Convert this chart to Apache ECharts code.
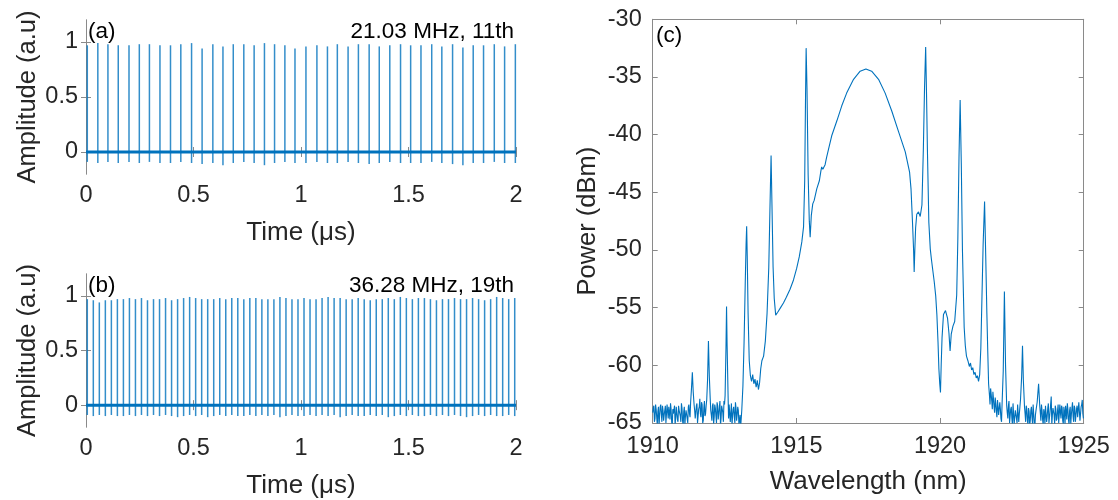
<!DOCTYPE html>
<html><head><meta charset="utf-8">
<script src="https://cdn.jsdelivr.net/npm/echarts@6/dist/echarts.min.js"></script>
<style>html,body{margin:0;padding:0;background:#fff}#c{width:1118px;height:500px}</style>
</head><body><div id="c"></div>
<script>
// ---------- DATA ----------
const timeTicks = [0, 0.5, 1, 1.5, 2];
const ampTicks = [0, 0.5, 1];
const wlTicks = [1910, 1915, 1920, 1925];
const powTicks = [-65, -60, -55, -50, -45, -40, -35, -30];

// (a) 21.03 MHz, 11th harmonic: pulse positions (µs), peak and undershoot amplitudes
const pulseTimesA = [0.006,0.055,0.102,0.150,0.200,0.248,0.295,0.344,0.393,0.441,0.491,0.540,0.590,0.637,0.685,0.734,0.782,0.830,0.877,0.925,0.972,1.023,1.074,1.123,1.169,1.219,1.267,1.317,1.364,1.413,1.463,1.510,1.558,1.608,1.655,1.705,1.753,1.801,1.849,1.899,1.947,1.997];
const peaksA = [0.97,0.99,0.98,0.97,0.97,0.98,0.98,0.97,0.97,0.98,0.99,0.94,0.98,0.96,0.98,0.98,0.97,0.99,0.98,0.97,0.94,0.96,0.97,0.96,0.98,0.96,0.98,0.98,0.96,0.97,0.98,0.97,0.97,0.98,0.96,0.98,0.95,0.97,0.97,0.98,0.96,0.98];
const dipsA = [-0.09,-0.10,-0.09,-0.10,-0.09,-0.10,-0.09,-0.10,-0.10,-0.09,-0.10,-0.11,-0.10,-0.12,-0.10,-0.09,-0.10,-0.12,-0.10,-0.09,-0.10,-0.10,-0.09,-0.10,-0.10,-0.09,-0.10,-0.11,-0.10,-0.09,-0.10,-0.10,-0.10,-0.09,-0.10,-0.11,-0.12,-0.10,-0.10,-0.09,-0.10,-0.10];

// (b) 36.28 MHz, 19th harmonic
const pulseTimesB = [0.006,0.034,0.062,0.090,0.118,0.146,0.174,0.202,0.230,0.258,0.286,0.314,0.342,0.370,0.398,0.426,0.454,0.482,0.510,0.538,0.566,0.594,0.622,0.650,0.678,0.706,0.734,0.762,0.790,0.818,0.846,0.874,0.902,0.930,0.958,0.986,1.014,1.042,1.070,1.098,1.126,1.154,1.182,1.210,1.238,1.266,1.294,1.322,1.350,1.378,1.406,1.434,1.462,1.490,1.518,1.546,1.574,1.602,1.630,1.658,1.686,1.714,1.742,1.770,1.798,1.826,1.854,1.882,1.910,1.938,1.966,1.994];
const peaksB = [0.97,0.96,0.94,0.96,0.96,0.97,0.97,0.98,0.97,0.98,0.96,0.97,
                0.97,0.98,0.96,0.97,0.98,0.99,0.98,0.97,0.97,0.97,0.98,0.97,
                0.98,0.98,0.97,0.98,0.98,0.97,0.97,0.97,0.99,0.98,0.97,0.97,
                0.98,0.97,0.97,0.98,0.99,0.98,0.98,0.97,0.97,0.98,0.97,0.96,
                0.97,0.97,0.98,0.97,0.99,0.98,0.97,0.98,0.98,0.97,0.96,0.97,
                0.97,0.98,0.97,0.97,0.98,0.97,0.96,0.97,0.99,0.98,0.97,0.98];
const dipsB = [-0.09,-0.10,-0.09,-0.10,-0.09,-0.10,-0.10,-0.09,-0.10,-0.09,-0.10,-0.09,
               -0.10,-0.09,-0.10,-0.11,-0.10,-0.09,-0.10,-0.09,-0.11,-0.10,-0.09,-0.10,
               -0.09,-0.10,-0.10,-0.09,-0.10,-0.09,-0.10,-0.09,-0.11,-0.10,-0.09,-0.10,
               -0.10,-0.09,-0.10,-0.09,-0.10,-0.09,-0.11,-0.10,-0.09,-0.10,-0.10,-0.09,
               -0.10,-0.09,-0.11,-0.10,-0.09,-0.10,-0.09,-0.10,-0.10,-0.09,-0.10,-0.09,
               -0.10,-0.09,-0.10,-0.11,-0.10,-0.09,-0.10,-0.09,-0.10,-0.10,-0.09,-0.10];
const baselineSpan = [0, 2];
const baselineLevel = 0;

// (c) optical spectrum (main trace)
const wavelength = [1910.00,1910.04,1910.08,1910.12,1910.16,1910.20,1910.24,1910.28,1910.32,1910.36,1910.40,1910.44,1910.48,1910.52,1910.56,1910.60,1910.64,1910.68,1910.72,1910.76,1910.80,1910.84,1910.88,1910.92,1910.96,1911.00,1911.04,1911.08,1911.12,1911.16,1911.20,1911.24,1911.28,1911.32,1911.35,1911.38,1911.41,1911.44,1911.48,1911.52,1911.56,1911.60,1911.64,1911.68,1911.72,1911.76,1911.80,1911.84,1911.88,1911.91,1911.94,1911.97,1912.00,1912.04,1912.08,1912.12,1912.16,1912.20,1912.24,1912.28,1912.32,1912.36,1912.40,1912.44,1912.48,1912.52,1912.55,1912.57,1912.59,1912.62,1912.66,1912.70,1912.74,1912.78,1912.82,1912.86,1912.90,1912.94,1912.98,1913.02,1913.06,1913.10,1913.14,1913.18,1913.22,1913.25,1913.27,1913.29,1913.32,1913.36,1913.40,1913.44,1913.48,1913.52,1913.56,1913.60,1913.64,1913.68,1913.72,1913.76,1913.80,1913.86,1913.92,1913.98,1914.04,1914.08,1914.12,1914.15,1914.19,1914.23,1914.28,1914.35,1914.45,1914.55,1914.65,1914.78,1914.90,1915.01,1915.10,1915.19,1915.25,1915.29,1915.32,1915.34,1915.37,1915.41,1915.45,1915.48,1915.52,1915.57,1915.62,1915.71,1915.80,1915.85,1915.88,1915.92,1915.96,1916.00,1916.05,1916.12,1916.23,1916.41,1916.58,1916.75,1916.99,1917.22,1917.42,1917.62,1917.86,1918.09,1918.32,1918.55,1918.79,1918.94,1918.99,1919.04,1919.08,1919.10,1919.12,1919.15,1919.19,1919.25,1919.31,1919.37,1919.42,1919.46,1919.50,1919.53,1919.56,1919.61,1919.66,1919.70,1919.75,1919.80,1919.85,1919.89,1919.93,1919.96,1919.99,1920.015,1920.04,1920.07,1920.12,1920.19,1920.26,1920.31,1920.35,1920.39,1920.45,1920.51,1920.58,1920.62,1920.66,1920.70,1920.74,1920.78,1920.84,1920.88,1920.92,1920.97,1921.02,1921.06,1921.10,1921.14,1921.18,1921.22,1921.26,1921.30,1921.34,1921.38,1921.42,1921.46,1921.50,1921.55,1921.59,1921.63,1921.66,1921.69,1921.72,1921.76,1921.80,1921.84,1921.88,1921.92,1921.96,1922.00,1922.04,1922.08,1922.12,1922.16,1922.20,1922.24,1922.28,1922.32,1922.36,1922.40,1922.44,1922.48,1922.52,1922.56,1922.60,1922.64,1922.68,1922.72,1922.76,1922.80,1922.84,1922.87,1922.90,1922.94,1922.98,1923.02,1923.06,1923.10,1923.14,1923.18,1923.22,1923.26,1923.30,1923.34,1923.38,1923.43,1923.47,1923.51,1923.55,1923.59,1923.63,1923.67,1923.71,1923.75,1923.79,1923.83,1923.87,1923.91,1923.95,1923.99,1924.03,1924.07,1924.11,1924.15,1924.19,1924.23,1924.27,1924.31,1924.35,1924.39,1924.43,1924.47,1924.51,1924.55,1924.59,1924.63,1924.67,1924.71,1924.75,1924.79,1924.83,1924.87,1924.91,1924.95,1924.99];
const power = [-64.1,-63.5,-64.6,-63.8,-65.2,-63.6,-64.4,-63.4,-64.9,-63.9,-64.3,-63.5,-65.1,-64.0,-63.6,-64.7,-63.8,-65.3,-64.2,-63.5,-64.5,-63.7,-64.9,-63.9,-64.4,-63.3,-64.8,-64.0,-65.2,-63.9,-64.6,-63.6,-64.2,-63.2,-62.0,-60.6,-62.3,-63.4,-64.6,-63.5,-65.0,-63.8,-62.9,-64.5,-63.4,-64.8,-63.1,-64.2,-63.0,-61.2,-57.9,-60.9,-62.8,-64.3,-63.5,-65.1,-63.4,-64.4,-63.2,-64.7,-63.6,-65.2,-63.5,-64.1,-63.1,-62.6,-58.5,-54.9,-58.3,-62.2,-63.4,-64.9,-63.3,-64.4,-63.6,-65.0,-63.7,-64.3,-63.9,-64.8,-65.4,-63.9,-61.8,-58.0,-53.0,-49.5,-47.95,-50.5,-55.5,-59.6,-60.9,-61.4,-60.8,-61.6,-61.2,-61.9,-61.3,-62.1,-61.5,-60.3,-59.6,-59.2,-57.9,-55.5,-51.5,-46.5,-41.8,-46.0,-51.5,-54.2,-55.65,-55.4,-55.0,-54.6,-54.1,-53.4,-52.6,-51.6,-50.6,-49.3,-48.0,-44.0,-36.5,-32.5,-36.0,-43.5,-47.5,-48.9,-47.0,-46.0,-45.7,-44.7,-44.0,-43.2,-42.8,-43.0,-43.0,-42.6,-42.0,-41.25,-40.1,-38.8,-37.5,-36.4,-35.2,-34.5,-34.3,-34.5,-35.2,-36.4,-37.95,-39.7,-41.5,-43.25,-44.7,-47.5,-50.0,-51.9,-50.2,-48.1,-46.9,-46.7,-47.1,-46.1,-41.2,-36.0,-32.4,-36.5,-41.2,-47.6,-49.9,-50.8,-51.8,-52.8,-54.0,-55.6,-58.0,-60.3,-61.6,-62.35,-60.0,-57.6,-55.6,-55.25,-55.9,-57.2,-58.75,-57.3,-56.6,-56.2,-53.9,-49.0,-42.0,-37.0,-42.5,-50.0,-56.7,-58.3,-59.2,-59.6,-60.1,-59.8,-60.4,-60.2,-60.8,-60.6,-61.1,-60.9,-61.4,-60.8,-58.5,-54.0,-49.5,-45.8,-50.5,-55.5,-58.7,-61.6,-62.6,-62.0,-63.1,-62.3,-63.6,-62.8,-64.0,-63.0,-64.3,-63.2,-64.6,-63.3,-60.5,-53.6,-60.0,-63.5,-64.6,-63.1,-64.9,-63.6,-65.2,-63.4,-64.5,-63.8,-65.0,-63.5,-64.2,-63.0,-61.0,-58.3,-61.3,-63.6,-64.9,-63.8,-65.3,-64.0,-64.8,-63.6,-65.1,-64.2,-65.4,-63.9,-63.2,-61.6,-63.5,-64.8,-63.9,-65.2,-64.1,-63.5,-64.9,-63.7,-65.0,-64.0,-62.7,-64.3,-63.6,-65.1,-63.8,-64.6,-63.4,-65.0,-64.1,-63.5,-64.8,-63.6,-65.2,-64.0,-63.3,-64.7,-63.9,-65.1,-63.7,-64.4,-63.5,-64.9,-63.8,-64.5,-63.2,-64.8,-63.6,-63.0,-64.6];
// (c) extra noise-floor samples between the main ones
const wavelengthNoise = [1910.02,1910.06,1910.10,1910.14,1910.18,1910.22,1910.26,1910.30,1910.34,1910.38,1910.42,1910.46,1910.50,1910.54,1910.58,1910.62,1910.66,1910.70,1910.74,1910.78,1910.82,1910.86,1910.90,1910.94,1910.98,1911.02,1911.06,1911.10,1911.14,1911.18,1911.22,1911.26,1911.30,
  1911.46,1911.50,1911.54,1911.58,1911.62,1911.66,1911.70,1911.74,1911.78,1911.82,1911.86,
  1912.02,1912.06,1912.10,1912.14,1912.18,1912.22,1912.26,1912.30,1912.34,1912.38,1912.42,1912.46,1912.50,
  1912.64,1912.68,1912.72,1912.76,1912.80,1912.84,1912.88,1912.92,1912.96,1913.00,1913.04,1913.08,
  1921.74,1921.78,1921.82,1921.86,1921.90,1921.94,1921.98,1922.02,1922.06,1922.10,1922.14,
  1922.34,1922.38,1922.42,1922.46,1922.50,1922.54,1922.58,1922.62,1922.66,1922.70,1922.74,1922.78,
  1922.96,1923.00,1923.04,1923.08,1923.12,1923.16,1923.20,1923.24,1923.28,1923.32,1923.36,
  1923.49,1923.53,1923.57,1923.61,1923.65,1923.69,1923.73,1923.77,1923.81,1923.85,1923.89,1923.93,1923.97,1924.01,1924.05,1924.09,1924.13,1924.17,1924.21,1924.25,1924.29,1924.33,1924.37,1924.41,1924.45,1924.49,1924.53,1924.57,1924.61,1924.65,1924.69,1924.73,1924.77,1924.81,1924.85,1924.89,1924.93,1924.97];
const powerNoise = [-63.7,-64.9,-63.4,-64.5,-64.0,-65.3,-63.6,-64.2,-63.5,-64.8,-63.9,-65.0,-63.4,-64.6,-64.1,-63.3,-64.9,-63.8,-64.3,-65.2,-63.6,-64.7,-63.5,-64.0,-64.9,-63.7,-65.3,-63.6,-64.4,-63.8,-65.0,-63.4,-64.5,
  -63.9,-64.7,-63.3,-64.9,-63.6,-64.2,-63.2,-65.0,-63.7,-64.4,-63.5,
  -63.9,-64.8,-63.3,-64.5,-63.7,-65.0,-63.5,-64.2,-63.1,-64.6,-63.8,-64.9,-63.4,
  -64.6,-63.5,-64.1,-65.2,-63.8,-64.5,-63.2,-64.8,-63.6,-65.1,-64.3,-65.5,
  -63.4,-62.5,-63.8,-62.9,-64.1,-63.3,-64.5,-63.6,-64.4,-63.8,-64.9,
  -64.1,-63.5,-65.0,-63.8,-64.6,-63.3,-65.1,-63.9,-64.6,-63.4,-64.9,-63.6,
  -64.2,-63.5,-64.7,-63.7,-65.2,-63.9,-64.5,-63.4,-65.0,-64.3,-63.8,
  -64.1,-63.4,-64.7,-63.8,-65.1,-63.6,-64.4,-63.3,-64.9,-63.9,-65.2,-63.7,-64.3,-63.5,-64.8,-63.9,-65.0,-63.4,-64.6,-63.7,-65.1,-64.0,-63.5,-64.7,-63.8,-65.2,-63.6,-64.3,-63.2,-64.9,-63.7,-65.0,-63.5,-64.4,-63.1,-64.7,-63.4,-64.2];

// ---------- BUILD ----------
function pulseRows(times, peaks, dips) {
  return times.map((t, i) => [t, peaks[i], dips[i]]);
}
const specData = wavelength.map((w, i) => [w, power[i]])
  .concat(wavelengthNoise.map((w, i) => [w, powerNoise[i]]))
  .sort((a, b) => a[0] - b[0]);

const FONT = 'Liberation Sans';
const TXT = '#262626';
const FRAME = '#8a8a8a';
const BLUE = '#0072BD';
const plain = v => String(v);

function renderPulse(params, api) {
  const top = api.coord([api.value(0), api.value(1)]);
  const bot = api.coord([api.value(0), api.value(2)]);
  return {
    type: 'line',
    shape: { x1: top[0], y1: top[1], x2: bot[0], y2: bot[1] },
    style: { stroke: BLUE, lineWidth: 1.5, opacity: 0.8 }
  };
}

const grids = [
  { left: 86, top: 20, width: 430, height: 154 },
  { left: 86, top: 274, width: 430, height: 154 },
  { left: 652.7, top: 19.3, width: 431, height: 406.7 }
];

function xMain(gi, min, max, interval, name, margin, gap) {
  return {
    type: 'value', gridIndex: gi, min, max, interval, position: 'bottom',
    name, nameLocation: 'middle', nameGap: gap,
    nameTextStyle: { fontFamily: FONT, fontSize: 26, color: TXT },
    axisLine: { show: true, lineStyle: { color: FRAME, width: 1 } },
    axisTick: { show: true, inside: true, length: 5, lineStyle: { color: FRAME } },
    axisLabel: { show: true, margin, fontFamily: FONT, fontSize: 23.5, color: TXT, formatter: plain },
    splitLine: { show: false }
  };
}
function xMirror(gi, min, max, interval) {
  return {
    type: 'value', gridIndex: gi, min, max, interval, position: 'top',
    axisLine: { show: true, lineStyle: { color: FRAME, width: 1 } },
    axisTick: { show: true, inside: true, length: 5, lineStyle: { color: FRAME } },
    axisLabel: { show: false }, splitLine: { show: false }
  };
}
function yMain(gi, min, max, interval, custom, name, margin, gap) {
  const ax = {
    type: 'value', gridIndex: gi, min, max, position: 'left',
    name, nameLocation: 'middle', nameGap: gap,
    nameTextStyle: { fontFamily: FONT, fontSize: 25.5, color: TXT },
    axisLine: { show: true, lineStyle: { color: FRAME, width: 1 } },
    axisTick: { show: true, inside: true, length: 5, lineStyle: { color: FRAME } },
    axisLabel: { show: true, margin, fontFamily: FONT, fontSize: 23.5, color: TXT, formatter: plain },
    splitLine: { show: false }
  };
  if (interval) ax.interval = interval;
  if (custom) { ax.axisLabel.customValues = custom; ax.axisTick.customValues = custom; }
  return ax;
}
function yMirror(gi, min, max, interval, custom) {
  const ax = {
    type: 'value', gridIndex: gi, min, max, position: 'right',
    axisLine: { show: true, lineStyle: { color: FRAME, width: 1 } },
    axisTick: { show: true, inside: true, length: 5, lineStyle: { color: FRAME } },
    axisLabel: { show: false }, splitLine: { show: false }
  };
  if (interval) ax.interval = interval;
  if (custom) { ax.axisTick.customValues = custom; ax.axisLabel.customValues = custom; }
  return ax;
}

const tMin = timeTicks[0], tMax = timeTicks[timeTicks.length - 1];
const wMin = wlTicks[0], wMax = wlTicks[wlTicks.length - 1];
const pMin = powTicks[0], pMax = powTicks[powTicks.length - 1];

const option = {
  animation: false,
  backgroundColor: '#fff',
  textStyle: { fontFamily: FONT },
  grid: grids,
  xAxis: [
    xMain(0, tMin, tMax, 0.5, 'Time (μs)', 10, 46),
    xMain(1, tMin, tMax, 0.5, 'Time (μs)', 10, 46),
    xMain(2, wMin, wMax, 5, 'Wavelength (nm)', 12, 46),
    xMirror(0, tMin, tMax, 0.5),
    xMirror(1, tMin, tMax, 0.5),
    xMirror(2, wMin, wMax, 5)
  ],
  yAxis: [
    yMain(0, -0.2, 1.2, null, ampTicks, 'Amplitude (a.u)', 8, 45),
    yMain(1, -0.2, 1.2, null, ampTicks, 'Amplitude (a.u)', 8, 45),
    yMain(2, pMin, pMax, 5, null, 'Power (dBm)', 11, 52),
    yMirror(0, -0.2, 1.2, null, ampTicks),
    yMirror(1, -0.2, 1.2, null, ampTicks),
    yMirror(2, pMin, pMax, 5, null)
  ],
  series: [
    { type: 'line', xAxisIndex: 0, yAxisIndex: 0, symbol: 'none', clip: true,
      data: [[baselineSpan[0], baselineLevel], [baselineSpan[1], baselineLevel]],
      lineStyle: { color: BLUE, width: 3 }, z: 2 },
    { type: 'custom', xAxisIndex: 0, yAxisIndex: 0, renderItem: renderPulse,
      encode: { x: 0, y: [1, 2] }, data: pulseRows(pulseTimesA, peaksA, dipsA), z: 3 },
    { type: 'line', xAxisIndex: 1, yAxisIndex: 1, symbol: 'none', clip: true,
      data: [[baselineSpan[0], baselineLevel], [baselineSpan[1], baselineLevel]],
      lineStyle: { color: BLUE, width: 3 }, z: 2 },
    { type: 'custom', xAxisIndex: 1, yAxisIndex: 1, renderItem: renderPulse,
      encode: { x: 0, y: [1, 2] }, data: pulseRows(pulseTimesB, peaksB, dipsB), z: 3 },
    { type: 'line', xAxisIndex: 2, yAxisIndex: 2, symbol: 'none', clip: true,
      data: specData, lineStyle: { color: BLUE, width: 1.1 }, z: 3 }
  ],
  graphic: [
    { type: 'text', x: 88, y: 32, z: 10, style: { text: '(a)', fontFamily: FONT, fontSize: 22.5, fill: '#000', align: 'left', verticalAlign: 'middle' } },
    { type: 'text', x: 514, y: 32, z: 10, style: { text: '21.03 MHz, 11th', fontFamily: FONT, fontSize: 22.5, fill: '#000', align: 'right', verticalAlign: 'middle' } },
    { type: 'text', x: 88, y: 286, z: 10, style: { text: '(b)', fontFamily: FONT, fontSize: 22.5, fill: '#000', align: 'left', verticalAlign: 'middle' } },
    { type: 'text', x: 514, y: 286, z: 10, style: { text: '36.28 MHz, 19th', fontFamily: FONT, fontSize: 22.5, fill: '#000', align: 'right', verticalAlign: 'middle' } },
    { type: 'text', x: 656, y: 36, z: 10, style: { text: '(c)', fontFamily: FONT, fontSize: 22.5, fill: '#000', align: 'left', verticalAlign: 'middle' } }
  ]
};
const chart = echarts.init(document.getElementById('c'), null, { renderer: 'canvas' });
chart.setOption(option);
</script>
</body></html>
